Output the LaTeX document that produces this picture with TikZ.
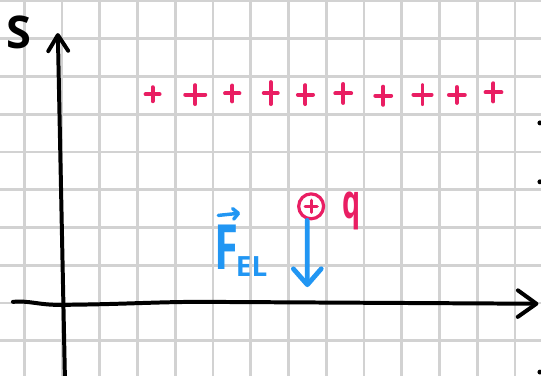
\documentclass[tikz,border=0pt]{standalone}
\usepackage{fontspec}
\usepackage{tikz}
\usetikzlibrary{arrows.meta,positioning}
\newfontfamily\handfont{Open Sans}
\definecolor{ChargePink}{RGB}{233,30,99}
\definecolor{ForceBlue}{RGB}{33,150,243}
\definecolor{GridGray}{RGB}{210,210,210}

\begin{document}
\begin{tikzpicture}[x=1cm,y=1cm,
  gridline/.style={GridGray,line width=2.2pt},
  axis/.style={black,line width=3pt,line cap=round,line join=round},
  plussign/.style={ChargePink,line width=3pt,line cap=round},
  charge/.style={circle,draw=ChargePink,line width=2.4pt,minimum size=0.66cm,inner sep=0pt,
    path picture={\draw[plussign,line width=2.4pt]
      ([xshift=-0.16cm]path picture bounding box.center) -- ([xshift=0.16cm]path picture bounding box.center)
      ([yshift=-0.16cm]path picture bounding box.center) -- ([yshift=0.16cm]path picture bounding box.center);}},
  force/.style={ForceBlue,line width=3.6pt,line cap=round,-{Straight Barb[length=12pt,width=21pt,round]}},
  vecarrow/.style={ForceBlue,line width=2.6pt,line cap=round,-{Straight Barb[length=4pt,width=8pt,round]}},
  handtext/.style={inner sep=0pt,outer sep=0pt}]
  \useasboundingbox[fill=white] (-1.642,-1.934) rectangle (12.689,8.026);
  \draw[gridline,step=1] (-1.642,-1.934) grid (12.689,8.026);

  % axes
  \coordinate (ybot) at (0.08,-2.1);
  \coordinate (ytop) at (-0.11,7.15);
  \coordinate (xleft) at (-1.3,0.03);
  \coordinate (xright) at (12.62,-0.02);
  \draw[axis,-{Straight Barb[length=12pt,width=15pt,round]}] (ybot) -- (ytop);
  \draw[axis,-{Straight Barb[length=14pt,width=20pt,round]}] (xleft)
    .. controls (-0.9,0.07) and (-0.6,-0.05) .. (-0.1,-0.05)
    .. controls (1.5,-0.04) and (2.5,0.03) .. (3.7,0.03) -- (xright);
  \node[handtext,font=\handfont\bfseries\fontsize{34}{34}\selectfont] (S) at (-1.15,7.18) {S};

  % charged plate
  \foreach \x/\y/\h/\v in {2.40/5.53/0.185/0.185, 3.53/5.52/0.265/0.25, 4.51/5.55/0.19/0.21,
      5.53/5.56/0.185/0.29, 6.45/5.52/0.2/0.25, 7.45/5.55/0.21/0.25, 8.51/5.49/0.21/0.24,
      9.55/5.52/0.24/0.25, 10.46/5.51/0.21/0.21, 11.43/5.58/0.21/0.24} {
    \draw[plussign] (\x-\h,\y) -- (\x+\h,\y) (\x,\y-\v) -- (\x,\y+\v);
  }

  % test charge and force
  \node[charge] (p) at (6.6,2.56) {};
  \node[handtext,text=ChargePink,xscale=0.6,font=\handfont\bfseries\fontsize{36}{36}\selectfont] (q) at (7.66,2.44) {q};
  \coordinate (ftip) at (6.5,0.42);
  \draw[force] ([xshift=-3pt]p.south) -- (ftip);
  \node[handtext,text=ForceBlue,xscale=0.7,font=\handfont\bfseries\fontsize{47}{47}\selectfont] (F) at (4.36,1.47) {F};
  \node[handtext,text=ForceBlue,anchor=south west,font=\handfont\bfseries\fontsize{21}{21}\selectfont] (EL) at ([xshift=-2pt,yshift=-5pt]F.south east) {EL};
  \draw[vecarrow] ([shift={(-0.22,0.26)}]F.north) -- ([shift={(0.36,0.32)}]F.north);

  % marks at the edge
  \foreach \y in {4.77,3.21,-1.83}
    \fill (12.66,\y) circle (0.065);
\end{tikzpicture}
\end{document}
